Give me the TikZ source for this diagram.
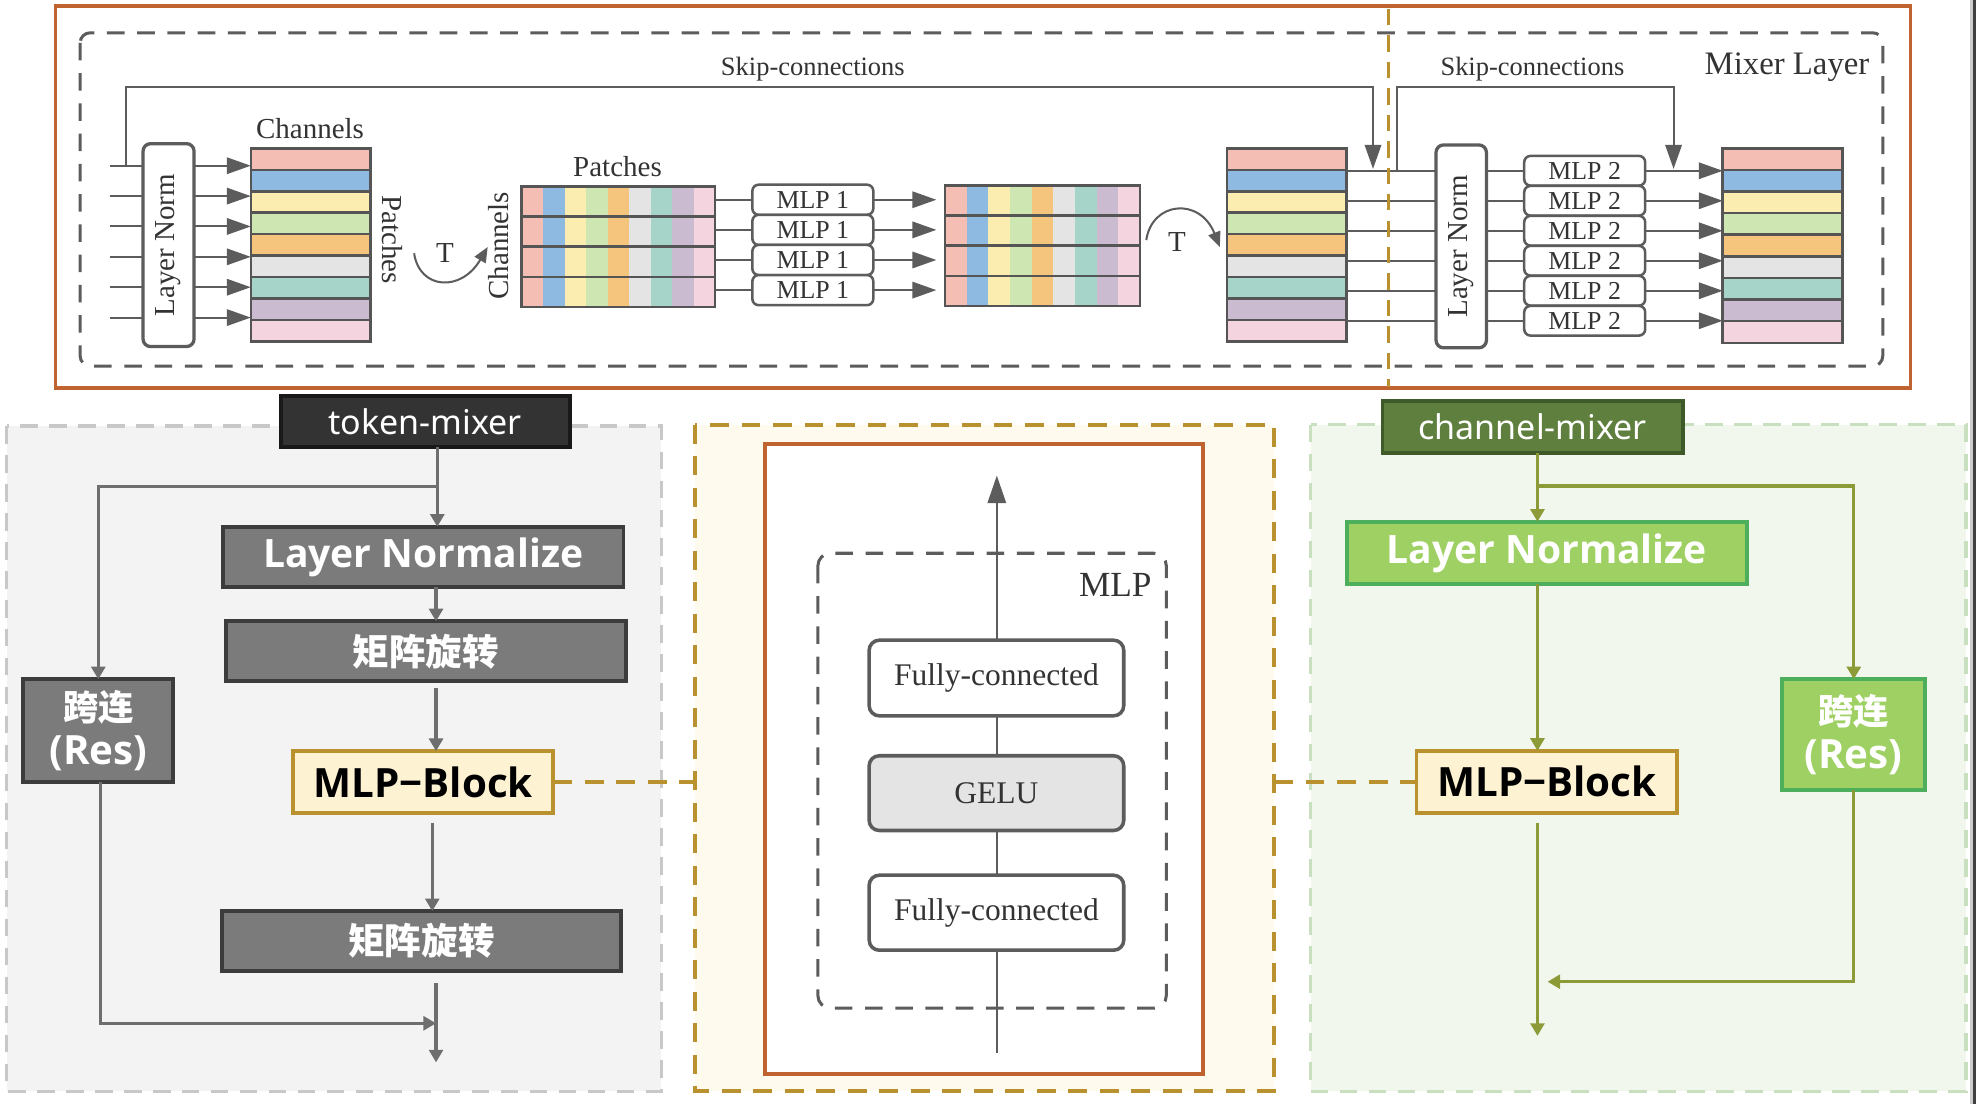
\documentclass[tikz,border=0pt]{standalone}
\usepackage{fontspec}
\usepackage{graphicx}
\setmainfont{Liberation Serif}
\newfontfamily\sans{Noto Sans}
\newfontfamily\sansb{Open Sans}
\newfontfamily\cjk{Noto Sans CJK SC}
\usetikzlibrary{arrows.meta}
\definecolor{orng}{HTML}{BF6330}
\definecolor{dgray}{HTML}{5C5C5C}
\definecolor{mline}{HTML}{555555}
\definecolor{txt}{HTML}{333333}
\definecolor{gold}{HTML}{B9912F}
\definecolor{mc1}{HTML}{F4BEB4}
\definecolor{mc2}{HTML}{8EBAE1}
\definecolor{mc3}{HTML}{FBEDB0}
\definecolor{mc4}{HTML}{CEE6B2}
\definecolor{mc5}{HTML}{F5C57E}
\definecolor{mc6}{HTML}{E4E4E4}
\definecolor{mc7}{HTML}{A6D4C8}
\definecolor{mc8}{HTML}{CBBBD0}
\definecolor{mc9}{HTML}{F4D4DF}
\definecolor{pgrayb}{HTML}{C8C8C8}
\definecolor{pgrayf}{HTML}{F3F3F3}
\definecolor{gbord}{HTML}{3C3C3C}
\definecolor{gfill}{HTML}{7B7B7B}
\definecolor{garc}{HTML}{6E6E6E}
\definecolor{cream}{HTML}{FDF2D2}
\definecolor{cpanel}{HTML}{FFFAEE}
\definecolor{gpanelb}{HTML}{C8DFC0}
\definecolor{gpanelf}{HTML}{F2F7EE}
\definecolor{cmfill}{HTML}{5E7F3E}
\definecolor{cmbord}{HTML}{3E5A28}
\definecolor{gnfill}{HTML}{9FD063}
\definecolor{gnbord}{HTML}{4DAF5C}
\definecolor{olive}{HTML}{8C9B38}
\definecolor{gelu}{HTML}{E4E4E4}

% channel matrix: name, x1, y1, x2, y2
\newcommand\chanmat[5]{%
  \pgfmathsetmacro\mdh{(#5-#3)/9}%
  \foreach \c [count=\i from 0] in {mc1,mc2,mc3,mc4,mc5,mc6,mc7,mc8,mc9}{%
    \fill[\c] (#2,{#3+\i*\mdh}) rectangle (#4,{#3+(\i+1)*\mdh});}%
  \foreach \i in {1,...,8}{\draw[matline] (#2,{#3+\i*\mdh}) -- (#4,{#3+\i*\mdh});}%
  \node[matbox, minimum width={#4-#2}, minimum height={#5-#3}] (#1) at ({(#2+#4)/2},{(#3+#5)/2}) {};%
}
% patch matrix: name, x1, y1, x2, y2
\newcommand\patmat[5]{%
  \pgfmathsetmacro\mdw{(#4-#2)/9}%
  \pgfmathsetmacro\mdh{(#5-#3)/4}%
  \foreach \c [count=\i from 0] in {mc1,mc2,mc3,mc4,mc5,mc6,mc7,mc8,mc9}{%
    \fill[\c] ({#2+\i*\mdw},#3) rectangle ({#2+(\i+1)*\mdw},#5);}%
  \foreach \i in {1,2,3}{\draw[matline] (#2,{#3+\i*\mdh}) -- (#4,{#3+\i*\mdh});}%
  \node[matbox, minimum width={#4-#2}, minimum height={#5-#3}] (#1) at ({(#2+#4)/2},{(#3+#5)/2}) {};%
}

\begin{document}
\begin{tikzpicture}[x=1pt,y=-1pt,
  tline/.style={draw=dgray, line width=1.6pt},
  tarr/.style={tline, -{Triangle[length=19pt,width=13pt]}},
  tcurve/.style={tline, -{Triangle[length=12pt,width=10pt]}},
  matline/.style={draw=mline, line width=2pt},
  matbox/.style={draw=mline, line width=2pt, inner sep=0pt, outer sep=0pt},
  lnbox/.style={draw=dgray, line width=2.6pt, rounded corners=6pt, fill=white, inner sep=0pt, outer sep=0pt, text=txt, font=\fontsize{23}{23}\selectfont},
  mlpbox/.style={draw=dgray, line width=2pt, rounded corners=5pt, fill=white, inner sep=0pt, outer sep=0pt, text=txt, minimum width=96pt, font=\fontsize{20.5}{20.5}\selectfont},
  ttxt/.style={text=txt, inner sep=0pt},
  labbox/.style={inner sep=0pt, outer sep=0pt, line width=3pt, text=white, font=\sans\fontsize{27}{27}\selectfont},
  gbox/.style={draw=gbord, fill=gfill, line width=3pt, inner sep=0pt, outer sep=0pt, text=white},
  gbar/.style={draw=garc, line width=2.5pt},
  garr/.style={gbar, -{Triangle[length=10pt,width=11pt]}},
  obar/.style={draw=olive, line width=2.5pt},
  oarr/.style={obar, -{Triangle[length=10pt,width=11pt]}},
  mlpblk/.style={draw=gold, fill=cream, line width=3pt, inner sep=0pt, outer sep=0pt, text=black, font=\sansb\bfseries\fontsize{32}{32}\selectfont},
  gnbox/.style={draw=gnbord, fill=gnfill, line width=3pt, inner sep=0pt, outer sep=0pt, text=white},
  fcbox/.style={draw=dgray, line width=2.8pt, rounded corners=8pt, fill=white, inner sep=0pt, outer sep=0pt, minimum width=202pt, text=txt, font=\fontsize{25}{25}\selectfont},
  golddash/.style={draw=gold, line width=3pt, dash pattern=on 15pt off 10pt},
  lnfont/.style={font=\sansb\bfseries\fontsize{31}{31}\selectfont},
  cjkfont/.style={font=\cjk\bfseries\fontsize{29}{29}\selectfont},
  resfont/.style={font=\fontsize{30}{35}\selectfont}
]
\useasboundingbox (0,0) rectangle (1568,876);
\fill[white] (0,0) rectangle (1568,876);

%%%%%%%%%%%%%%%% TOP: Mixer layer %%%%%%%%%%%%%%%%
\draw[orng, line width=3pt] (44,5) rectangle (1516,308);
\draw[dgray, line width=2.4pt, dash pattern=on 14pt off 10pt, rounded corners=8pt] (63.6,26) rectangle (1494,290.5);

\node[ttxt, font=\fontsize{21}{21}\selectfont] (sk1) at (645,55) {Skip-connections};
\node[ttxt, font=\fontsize{21}{21}\selectfont] (sk2) at (1216,55) {Skip-connections};
\node[ttxt, font=\fontsize{26}{26}\selectfont] (mixl) at (1418,53) {Mixer Layer};

% first layer norm and channel matrix
\node[lnbox, minimum width=40.5pt, minimum height=161pt] (ln1) at (133.75,194.5) {\rotatebox{90}{Layer Norm}};
\chanmat{m1}{199}{117.7}{294}{271}
\node[ttxt, font=\fontsize{23}{23}\selectfont] (chl1) at (246,102) {Channels};
\node[ttxt, font=\fontsize{23}{23}\selectfont, rotate=-90] (pal1) at (311,190) {Patches};

\foreach \k in {0,...,5}{
  \pgfmathsetmacro\yy{131.5+\k*24.1}
  \coordinate (in\k) at (87,\yy);
  \draw[tline] (in\k) -- (ln1.west |- in\k);
  \draw[tarr] (ln1.east |- in\k) -- (m1.west |- in\k);
}

% transpose 1
\node[ttxt, font=\fontsize{23}{23}\selectfont] (t1) at (353,201) {T};
\coordinate (t1a) at (328.6,201);
\coordinate (t1b) at (387,196);
\draw[tcurve] (t1a) .. controls (333,230) and (366,232) .. (t1b);

% patch matrices
\patmat{p1}{414}{148}{567.5}{243.5}
\node[ttxt, font=\fontsize{23}{23}\selectfont] (pal2) at (490,132) {Patches};
\node[ttxt, font=\fontsize{23}{23}\selectfont, rotate=90] (chl2) at (396,195) {Channels};
\patmat{p2}{750}{147}{904.5}{243}

\foreach \k in {0,...,3}{
  \node[mlpbox, minimum height=23.9pt] (a\k) at (645,{158.5+\k*23.9}) {MLP 1};
  \draw[tline] (p1.east |- a\k.west) -- (a\k.west);
  \draw[tarr, shorten >=7pt] (a\k.east) -- (p2.west |- a\k.east);
}

% transpose 2
\node[ttxt, font=\fontsize{23}{23}\selectfont] (t2) at (934,192) {T};
\coordinate (t2a) at (909.6,190.5);
\coordinate (t2b) at (968,196);
\draw[tcurve] (t2a) .. controls (914,160) and (952,156) .. (t2b);

% third matrix, second layer norm, MLP2, output matrix
\chanmat{m3}{973.7}{117.7}{1068.6}{271}
\node[lnbox, minimum width=40pt, minimum height=161pt] (ln2) at (1159.5,195.5) {\rotatebox{90}{Layer Norm}};
\chanmat{m4}{1367}{117.7}{1462}{272}

\foreach \k in {0,...,5}{
  \pgfmathsetmacro\yy{135.5+\k*23.8}
  \coordinate (o\k) at (1068.6,\yy);
  \node[mlpbox, minimum height=23.6pt] (b\k) at (1257.5,\yy) {MLP 2};
  \draw[tline] (m3.east |- o\k) -- (ln2.west |- o\k);
  \draw[tline] (ln2.east |- o\k) -- (b\k.west);
  \draw[tarr] (b\k.east) -- (m4.west |- b\k.east);
}

% skip connections
\coordinate (s1a) at (100,131.5);
\coordinate (s1b) at (1089.5,134);
\draw[tarr] (s1a) -- (100,69.3) -- (1089.5,69.3) -- (s1b);
\coordinate (s2a) at (1108.7,135.5);
\coordinate (s2b) at (1328,134);
\draw[tarr] (s2a) -- (1108.7,69.3) -- (1328,69.3) -- (s2b);

% gold divider
\draw[gold, line width=2.4pt, dash pattern=on 13pt off 8pt] (1101.5,7) -- (1101.5,307);

%%%%%%%%%%%%%%%% BOTTOM LEFT: token mixer %%%%%%%%%%%%%%%%
\draw[draw=pgrayb, fill=pgrayf, line width=2.5pt, dash pattern=on 14pt off 9pt] (5.3,338) rectangle (524.6,866);
\node[labbox, draw=black!90, fill=txt, minimum width=229pt, minimum height=40.5pt] (tm) at (337.5,334.75) {token-mixer};
\node[gbox, lnfont, minimum width=317.7pt, minimum height=48pt] (lnL) at (335.85,442) {Layer Normalize};
\node[gbox, cjkfont, minimum width=317pt, minimum height=47.5pt] (rot1) at (338,516.75) {矩阵旋转};
\node[mlpblk, minimum width=206.4pt, minimum height=49pt] (mbL) at (335.8,620.5) {MLP−Block};
\node[gbox, cjkfont, minimum width=317pt, minimum height=47.5pt] (rot2) at (334.5,746.75) {矩阵旋转};
\node[gbox, resfont, minimum width=119pt, minimum height=81.5pt, align=center] (resL) at (78,579.75)
  {{\cjk\bfseries\fontsize{28}{35}\selectfont 跨连}\\{\sansb\bfseries\fontsize{32}{35}\selectfont (Res)}};

\draw[garr] (347,355) -- (lnL.north -| 347,0);
\draw[garr] (347,386) -- (78,386) -- (resL.north);
\draw[garr] (lnL.south -| 346,0) -- (rot1.north -| 346,0);
\coordinate (r1o) at (346,546);
\draw[garr] (r1o) -- (mbL.north -| 346,0);
\coordinate (mLo) at (343,653);
\draw[garr] (mLo) -- (rot2.north -| 343,0);
\coordinate (r2o) at (346,780);
\coordinate (endL) at (346,843);
\draw[garr] (r2o) -- (endL);
\coordinate (mergeL) at (346,812);
\draw[garr] (resL.south -| 80,0) -- (80,812) -- (mergeL);

%%%%%%%%%%%%%%%% BOTTOM CENTER: MLP %%%%%%%%%%%%%%%%
\draw[golddash, fill=cpanel] (551.6,337) rectangle (1011,866);
\draw[orng, line width=3pt, fill=white] (607,352.4) rectangle (954.5,852);
\draw[dgray, line width=2.4pt, dash pattern=on 14pt off 10pt, rounded corners=10pt] (649,439) rectangle (925.5,800);
\node[ttxt, font=\fontsize{28}{28}\selectfont] (mlpl) at (885,464.5) {MLP};
\coordinate (upin) at (791,835.7);
\coordinate (upout) at (791,377.3);
\draw[dgray, line width=2pt, -{Triangle[length=22pt,width=14.5pt]}] (upin) -- (upout);
\node[fcbox, minimum height=60pt] (fc1) at (790.7,538) {Fully-connected};
\node[fcbox, fill=gelu, minimum height=59.3pt] (gl) at (790.7,629.35) {GELU};
\node[fcbox, minimum height=59.5pt] (fc2) at (790.7,724.25) {Fully-connected};

%%%%%%%%%%%%%%%% BOTTOM RIGHT: channel mixer %%%%%%%%%%%%%%%%
\draw[draw=gpanelb, fill=gpanelf, line width=2.5pt, dash pattern=on 14pt off 9pt] (1040,337) rectangle (1560,866);
\node[labbox, draw=cmbord, fill=cmfill, minimum width=238.4pt, minimum height=41.5pt] (cm) at (1216.2,338.75) {channel-mixer};
\node[gnbox, lnfont, minimum width=317.3pt, minimum height=49.5pt] (lnR) at (1227.35,438.75) {Layer Normalize};
\node[mlpblk, minimum width=207pt, minimum height=49.2pt] (mbR) at (1227.5,620.4) {MLP−Block};
\node[gnbox, resfont, minimum width=113.4pt, minimum height=88pt, align=center] (resR) at (1470.7,583)
  {{\cjk\bfseries\fontsize{28}{35}\selectfont 跨连}\\{\sansb\bfseries\fontsize{32}{35}\selectfont (Res)}};

\draw[oarr] (cm.south -| 1220,0) -- (lnR.north -| 1220,0);
\draw[oarr] (1220,385.7) -- (1471,385.7) -- (resR.north -| 1471,0);
\draw[oarr] (lnR.south -| 1220,0) -- (mbR.north -| 1220,0);
\coordinate (mRo) at (1220,653);
\coordinate (endR) at (1220,822);
\draw[oarr] (mRo) -- (endR);
\coordinate (mergeR) at (1228,779);
\draw[oarr] (resR.south -| 1471,0) -- (1471,779) -- (mergeR);

% dashed links to the MLP panel
\coordinate (cL) at (551.6,620.5);
\coordinate (cR) at (1011,620.4);
\draw[golddash] (mbL.east) -- (cL);
\draw[golddash] (cR) -- (mbR.west);

% right edge line
\fill[black!20] (1563.5,0) rectangle (1565.5,876);
\fill[black!75] (1565.5,0) rectangle (1568,876);
\end{tikzpicture}
\end{document}
